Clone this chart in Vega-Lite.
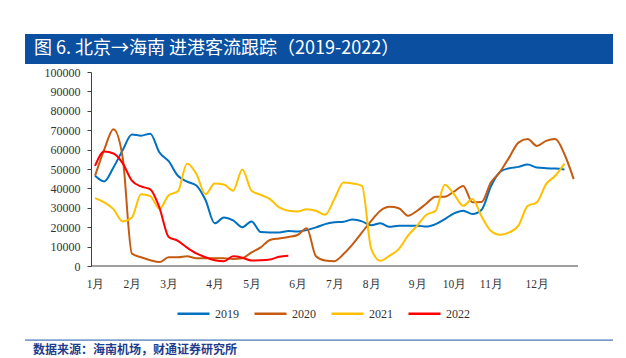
{
  "$schema": "https://vega.github.io/schema/vega-lite/v6.json",
  "padding": {"left": 24, "top": 34, "right": 10, "bottom": 0},
  "background": "white",
  "spacing": 2,
  "bounds": "full",
  "config": {"view": {"stroke": null}},
  "vconcat": [
    {
      "width": 588,
      "height": 30,
      "view": {"fill": "#0A4FA0", "stroke": null},
      "data": {"values": [{"t": "图 6. 北京→海南  进港客流跟踪（2019-2022）"}]},
      "mark": {"type": "text", "align": "left", "baseline": "middle", "color": "white", "font": "Noto Sans CJK SC", "fontSize": 18, "dx": 9},
      "encoding": {
        "text": {"field": "t"},
        "x": {"datum": 0, "type": "quantitative", "scale": {"domain": [0, 1]}, "axis": null},
        "y": {"datum": 0.5, "type": "quantitative", "scale": {"domain": [0, 1]}, "axis": null}
      }
    },
    {
      "width": 553,
      "height": 194,
      "layer": [
        {
          "data": {"values": [
            {"week":0,"year":"2019","value":46500},{"week":1,"year":"2019","value":43600},{"week":2,"year":"2019","value":50800},{"week":3,"year":"2019","value":59700},{"week":4,"year":"2019","value":67800},{"week":5,"year":"2019","value":67200},{"week":6,"year":"2019","value":68200},{"week":7,"year":"2019","value":58500},{"week":8,"year":"2019","value":54000},{"week":9,"year":"2019","value":46500},{"week":10,"year":"2019","value":43500},{"week":11,"year":"2019","value":41500},{"week":12,"year":"2019","value":34000},{"week":13,"year":"2019","value":22000},{"week":14,"year":"2019","value":25000},{"week":15,"year":"2019","value":23500},{"week":16,"year":"2019","value":20000},{"week":17,"year":"2019","value":23000},{"week":18,"year":"2019","value":17500},{"week":19,"year":"2019","value":17300},{"week":20,"year":"2019","value":17300},{"week":21,"year":"2019","value":18000},{"week":22,"year":"2019","value":17800},{"week":23,"year":"2019","value":18500},{"week":24,"year":"2019","value":19900},{"week":25,"year":"2019","value":21600},{"week":26,"year":"2019","value":22500},{"week":27,"year":"2019","value":22800},{"week":28,"year":"2019","value":24000},{"week":29,"year":"2019","value":23000},{"week":30,"year":"2019","value":21000},{"week":31,"year":"2019","value":22000},{"week":32,"year":"2019","value":20200},{"week":33,"year":"2019","value":20800},{"week":34,"year":"2019","value":20800},{"week":35,"year":"2019","value":20800},{"week":36,"year":"2019","value":20300},{"week":37,"year":"2019","value":21600},{"week":38,"year":"2019","value":24200},{"week":39,"year":"2019","value":27100},{"week":40,"year":"2019","value":28500},{"week":41,"year":"2019","value":26800},{"week":42,"year":"2019","value":29000},{"week":43,"year":"2019","value":41000},{"week":44,"year":"2019","value":48500},{"week":45,"year":"2019","value":50400},{"week":46,"year":"2019","value":51100},{"week":47,"year":"2019","value":52300},{"week":48,"year":"2019","value":50800},{"week":49,"year":"2019","value":50400},{"week":50,"year":"2019","value":50200},{"week":51,"year":"2019","value":49700},
            {"week":0,"year":"2020","value":46500},{"week":1,"year":"2020","value":60000},{"week":2,"year":"2020","value":70500},{"week":3,"year":"2020","value":56000},{"week":4,"year":"2020","value":6500},{"week":5,"year":"2020","value":4500},{"week":6,"year":"2020","value":3000},{"week":7,"year":"2020","value":2000},{"week":8,"year":"2020","value":4500},{"week":9,"year":"2020","value":4500},{"week":10,"year":"2020","value":5000},{"week":11,"year":"2020","value":4000},{"week":12,"year":"2020","value":4000},{"week":13,"year":"2020","value":4000},{"week":14,"year":"2020","value":4000},{"week":15,"year":"2020","value":3600},{"week":16,"year":"2020","value":4000},{"week":17,"year":"2020","value":7000},{"week":18,"year":"2020","value":9600},{"week":19,"year":"2020","value":13400},{"week":20,"year":"2020","value":14200},{"week":21,"year":"2020","value":15000},{"week":22,"year":"2020","value":16000},{"week":23,"year":"2020","value":19500},{"week":24,"year":"2020","value":5000},{"week":25,"year":"2020","value":2800},{"week":26,"year":"2020","value":2500},{"week":27,"year":"2020","value":6200},{"week":28,"year":"2020","value":11300},{"week":29,"year":"2020","value":17300},{"week":30,"year":"2020","value":23300},{"week":31,"year":"2020","value":28500},{"week":32,"year":"2020","value":30500},{"week":33,"year":"2020","value":29800},{"week":34,"year":"2020","value":25900},{"week":35,"year":"2020","value":28500},{"week":36,"year":"2020","value":32200},{"week":37,"year":"2020","value":35700},{"week":38,"year":"2020","value":35700},{"week":39,"year":"2020","value":38400},{"week":40,"year":"2020","value":41300},{"week":41,"year":"2020","value":32800},{"week":42,"year":"2020","value":33000},{"week":43,"year":"2020","value":43000},{"week":44,"year":"2020","value":48500},{"week":45,"year":"2020","value":56000},{"week":46,"year":"2020","value":63600},{"week":47,"year":"2020","value":65400},{"week":48,"year":"2020","value":61900},{"week":49,"year":"2020","value":64500},{"week":50,"year":"2020","value":65400},{"week":51,"year":"2020","value":57600},{"week":52,"year":"2020","value":44800},
            {"week":0,"year":"2021","value":35000},{"week":1,"year":"2021","value":32800},{"week":2,"year":"2021","value":29300},{"week":3,"year":"2021","value":23000},{"week":4,"year":"2021","value":25000},{"week":5,"year":"2021","value":37000},{"week":6,"year":"2021","value":36000},{"week":7,"year":"2021","value":29500},{"week":8,"year":"2021","value":36500},{"week":9,"year":"2021","value":38500},{"week":10,"year":"2021","value":52800},{"week":11,"year":"2021","value":47500},{"week":12,"year":"2021","value":37000},{"week":13,"year":"2021","value":42500},{"week":14,"year":"2021","value":42000},{"week":15,"year":"2021","value":38800},{"week":16,"year":"2021","value":49800},{"week":17,"year":"2021","value":38800},{"week":18,"year":"2021","value":36700},{"week":19,"year":"2021","value":34500},{"week":20,"year":"2021","value":30200},{"week":21,"year":"2021","value":28500},{"week":22,"year":"2021","value":28100},{"week":23,"year":"2021","value":29300},{"week":24,"year":"2021","value":28500},{"week":25,"year":"2021","value":26400},{"week":26,"year":"2021","value":34500},{"week":27,"year":"2021","value":43000},{"week":28,"year":"2021","value":42500},{"week":29,"year":"2021","value":41300},{"week":30,"year":"2021","value":9000},{"week":31,"year":"2021","value":2700},{"week":32,"year":"2021","value":5300},{"week":33,"year":"2021","value":8700},{"week":34,"year":"2021","value":15600},{"week":35,"year":"2021","value":20800},{"week":36,"year":"2021","value":26400},{"week":37,"year":"2021","value":28500},{"week":38,"year":"2021","value":41900},{"week":39,"year":"2021","value":37000},{"week":40,"year":"2021","value":31000},{"week":41,"year":"2021","value":34500},{"week":42,"year":"2021","value":25500},{"week":43,"year":"2021","value":18200},{"week":44,"year":"2021","value":16100},{"week":45,"year":"2021","value":17300},{"week":46,"year":"2021","value":20800},{"week":47,"year":"2021","value":31000},{"week":48,"year":"2021","value":32800},{"week":49,"year":"2021","value":42200},{"week":50,"year":"2021","value":46500},{"week":51,"year":"2021","value":52800},
            {"week":0,"year":"2022","value":51600},{"week":1,"year":"2022","value":59000},{"week":2,"year":"2022","value":58000},{"week":3,"year":"2022","value":53000},{"week":4,"year":"2022","value":44000},{"week":5,"year":"2022","value":41000},{"week":6,"year":"2022","value":39500},{"week":7,"year":"2022","value":30000},{"week":8,"year":"2022","value":15000},{"week":9,"year":"2022","value":13000},{"week":10,"year":"2022","value":9500},{"week":11,"year":"2022","value":6500},{"week":12,"year":"2022","value":4500},{"week":13,"year":"2022","value":3000},{"week":14,"year":"2022","value":2500},{"week":15,"year":"2022","value":5000},{"week":16,"year":"2022","value":4300},{"week":17,"year":"2022","value":2800},{"week":18,"year":"2022","value":2900},{"week":19,"year":"2022","value":3300},{"week":20,"year":"2022","value":4800},{"week":21,"year":"2022","value":5300}
          ]},
          "mark": {"type": "line", "interpolate": "monotone", "strokeWidth": 2},
          "encoding": {
            "x": {
              "field": "week", "type": "quantitative",
              "scale": {"domain": [-7.61, 52.47], "nice": false, "zero": false},
              "axis": {
                "title": null, "grid": false, "ticks": false, "tickSize": 0, "domain": false,
                "values": [0, 4, 8, 13, 17, 22, 26, 30, 35, 39, 43, 48],
                "labelExpr": "(indexof([0,4,8,13,17,22,26,30,35,39,43,48], datum.value) + 1) + '月'",
                "labelFont": "Liberation Serif", "labelFontSize": 11.5, "labelColor": "#333333",
                "labelPadding": 12, "labelFlush": false, "labelOverlap": false
              }
            },
            "y": {
              "field": "value", "type": "quantitative",
              "scale": {"domain": [0, 100000], "nice": false},
              "axis": {
                "title": null, "grid": false, "offset": -66,
                "values": [0, 10000, 20000, 30000, 40000, 50000, 60000, 70000, 80000, 90000, 100000],
                "format": "d", "ticks": true, "tickSize": 4, "tickColor": "#404040",
                "domainColor": "#404040", "labelOverlap": false, "labelFlush": false,
                "labelFont": "Liberation Serif", "labelFontSize": 12, "labelColor": "#333333",
                "labelPadding": 7
              }
            },
            "color": {
              "field": "year", "type": "nominal",
              "scale": {"domain": ["2019", "2020", "2021", "2022"], "range": ["#0070C0", "#C55A11", "#FFC000", "#FF0000"]},
              "legend": {
                "title": null, "orient": "none", "legendX": 151, "legendY": 262,
                "direction": "horizontal", "columns": 4,
                "symbolType": "stroke", "symbolSize": 1024, "symbolStrokeWidth": 2.5,
                "labelFont": "Liberation Serif", "labelFontSize": 12, "labelColor": "#333333",
                "labelOffset": 4, "columnPadding": 10
              }
            }
          }
        },
        {
          "data": {"values": [{"start": -0.43, "end": 52.47, "base": 0}]},
          "mark": {"type": "rule", "color": "#404040", "strokeWidth": 1.2},
          "encoding": {
            "x": {
              "field": "start", "type": "quantitative",
              "axis": {
                "title": null, "grid": false, "ticks": false, "tickSize": 0, "domain": false,
                "values": [0, 4, 8, 13, 17, 22, 26, 30, 35, 39, 43, 48],
                "labelExpr": "(indexof([0,4,8,13,17,22,26,30,35,39,43,48], datum.value) + 1) + '月'",
                "labelFont": "Liberation Serif", "labelFontSize": 11.5, "labelColor": "#333333",
                "labelPadding": 12, "labelFlush": false, "labelOverlap": false
              }
            },
            "x2": {"field": "end"},
            "y": {
              "field": "base", "type": "quantitative",
              "axis": {
                "title": null, "grid": false, "offset": -66,
                "values": [0, 10000, 20000, 30000, 40000, 50000, 60000, 70000, 80000, 90000, 100000],
                "format": "d", "ticks": true, "tickSize": 4, "tickColor": "#404040",
                "domainColor": "#404040", "labelOverlap": false, "labelFlush": false,
                "labelFont": "Liberation Serif", "labelFontSize": 12, "labelColor": "#333333",
                "labelPadding": 7
              }
            }
          }
        }
      ]
    },
    {
      "width": 588,
      "height": 66,
      "layer": [
        {
          "data": {"values": [{"k": "line"}]},
          "mark": {"type": "rule", "color": "#1A56A8", "strokeWidth": 1},
          "encoding": {
            "x": {"datum": 0, "type": "quantitative", "scale": {"domain": [0, 1]}, "axis": null},
            "x2": {"datum": 1},
            "y": {"datum": 51, "type": "quantitative", "scale": {"domain": [0, 66], "reverse": true}, "axis": null}
          }
        },
        {
          "data": {"values": [{"t": "数据来源：海南机场，财通证券研究所"}]},
          "mark": {"type": "text", "align": "left", "baseline": "middle", "color": "#1F3D8C", "font": "Noto Sans CJK SC", "fontWeight": "bold", "fontSize": 12, "dx": 8},
          "encoding": {
            "text": {"field": "t"},
            "x": {"datum": 0, "type": "quantitative"},
            "y": {"datum": 62, "type": "quantitative"}
          }
        }
      ]
    }
  ]
}
